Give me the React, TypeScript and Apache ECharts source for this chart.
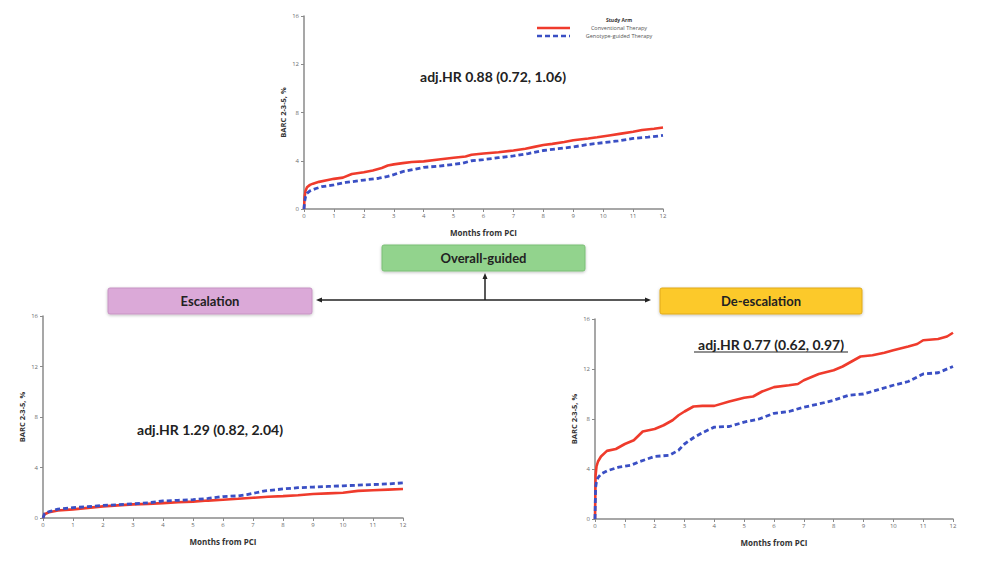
import React, { useEffect, useRef } from "react";
import * as echarts from "echarts";

// Cumulative incidence of BARC 2-3-5 bleeding (%), by study arm
const overallConvT = [0, 0.02, 0.05, 0.1, 0.2, 0.3, 0.5, 0.8, 1.0, 1.3, 1.6, 2.0, 2.3, 2.6, 2.8, 3.0, 3.3, 3.6, 4.0, 4.5, 5.0, 5.4, 5.6, 6.0, 6.5, 7.0, 7.4, 7.7, 8.0, 8.3, 8.7, 9.0, 9.5, 9.8, 10.2, 10.6, 11.0, 11.3, 11.7, 12];
const overallConvV = [0, 1.0, 1.5, 1.8, 2.0, 2.1, 2.25, 2.4, 2.5, 2.6, 2.9, 3.05, 3.2, 3.4, 3.6, 3.7, 3.8, 3.9, 3.95, 4.1, 4.25, 4.35, 4.5, 4.6, 4.7, 4.85, 5.0, 5.15, 5.3, 5.4, 5.55, 5.7, 5.85, 5.95, 6.1, 6.25, 6.4, 6.55, 6.65, 6.75];
const overallGenoT = [0, 0.02, 0.05, 0.1, 0.2, 0.4, 0.6, 1.0, 1.4, 2.0, 2.5, 2.8, 3.0, 3.3, 3.7, 4.0, 4.5, 5.0, 5.3, 5.6, 6.0, 6.5, 7.0, 7.5, 8.0, 8.5, 9.0, 9.5, 10.0, 10.5, 11.0, 11.5, 12];
const overallGenoV = [0, 0.6, 1.0, 1.3, 1.5, 1.7, 1.85, 2.0, 2.2, 2.4, 2.55, 2.7, 2.85, 3.1, 3.3, 3.45, 3.55, 3.7, 3.8, 4.0, 4.1, 4.25, 4.4, 4.6, 4.85, 5.0, 5.15, 5.35, 5.5, 5.65, 5.85, 5.95, 6.1];

const escConvT = [0, 0.05, 0.2, 0.5, 1.0, 1.5, 2.0, 2.5, 3.0, 3.5, 4.0, 4.5, 5.0, 5.5, 6.0, 6.5, 7.0, 7.5, 8.0, 8.5, 9.0, 9.5, 10.0, 10.5, 11.0, 11.5, 12];
const escConvV = [0, 0.3, 0.45, 0.6, 0.68, 0.8, 0.92, 1.0, 1.08, 1.12, 1.18, 1.25, 1.3, 1.38, 1.45, 1.52, 1.6, 1.68, 1.73, 1.8, 1.9, 1.95, 2.0, 2.15, 2.2, 2.25, 2.3];
const escGenoT = [0, 0.05, 0.2, 0.5, 1.0, 1.5, 2.0, 2.5, 3.0, 3.5, 4.0, 4.5, 5.0, 5.5, 6.0, 6.5, 6.8, 7.1, 7.4, 8.0, 8.5, 9.0, 9.5, 10.0, 10.5, 11.0, 11.5, 12];
const escGenoV = [0, 0.35, 0.5, 0.7, 0.82, 0.9, 1.0, 1.05, 1.12, 1.2, 1.35, 1.4, 1.45, 1.55, 1.7, 1.75, 1.85, 2.0, 2.15, 2.3, 2.4, 2.45, 2.5, 2.55, 2.6, 2.65, 2.7, 2.78];

const deescConvT = [0, 0.02, 0.05, 0.1, 0.2, 0.4, 0.7, 1.0, 1.3, 1.6, 2.0, 2.3, 2.6, 2.8, 3.0, 3.3, 3.6, 4.0, 4.5, 5.0, 5.3, 5.6, 6.0, 6.5, 6.8, 7.0, 7.5, 8.0, 8.3, 8.6, 8.9, 9.3, 9.7, 10.0, 10.5, 10.8, 11.0, 11.5, 11.8, 12];
const deescConvV = [0, 3.5, 4.2, 4.6, 5.0, 5.45, 5.6, 6.0, 6.3, 7.0, 7.2, 7.5, 7.9, 8.3, 8.6, 9.0, 9.05, 9.05, 9.4, 9.7, 9.8, 10.2, 10.55, 10.7, 10.8, 11.1, 11.6, 11.9, 12.2, 12.6, 13.0, 13.1, 13.3, 13.5, 13.8, 14.0, 14.3, 14.4, 14.6, 14.9];
const deescGenoT = [0, 0.02, 0.05, 0.1, 0.2, 0.4, 0.8, 1.2, 1.5, 2.0, 2.5, 2.8, 3.0, 3.3, 3.6, 4.0, 4.5, 5.0, 5.5, 6.0, 6.5, 7.0, 7.5, 8.0, 8.5, 9.0, 9.5, 10.0, 10.5, 11.0, 11.5, 12];
const deescGenoV = [0, 2.5, 3.0, 3.3, 3.6, 3.85, 4.15, 4.3, 4.6, 5.0, 5.1, 5.5, 6.0, 6.5, 6.9, 7.35, 7.4, 7.75, 8.0, 8.45, 8.6, 8.95, 9.2, 9.5, 9.9, 10.0, 10.35, 10.7, 11.0, 11.6, 11.7, 12.2];

const armNames = ["Conventional Therapy", "Genotype-guided Therapy"];
const panelHR = ["adj.HR 0.88 (0.72, 1.06)", "adj.HR 1.29 (0.82, 2.04)", "adj.HR 0.77 (0.62, 0.97)"];
const strategyLabels = ["Overall-guided", "Escalation", "De-escalation"];

const RED = "#ef3b2c";
const BLUE = "#3a4fc4";
const AXIS = "#8a8a8a";

const pairs = (t: number[], v: number[]) => t.map((x, i) => [x, v[i]]);

function makeXAxis(gridIndex: number) {
  return {
    type: "value",
    gridIndex,
    min: 0,
    max: 12,
    interval: 1,
    name: "Months from PCI",
    nameLocation: "middle",
    nameGap: 19,
    nameTextStyle: { fontSize: 8, fontWeight: "bold", color: "#333", fontFamily: "Open Sans" },
    axisLine: { lineStyle: { color: AXIS, width: 1.5 } },
    axisTick: { length: 3, lineStyle: { color: AXIS } },
    axisLabel: { fontSize: 6, color: "#6b6b6b", margin: 4, fontFamily: "Open Sans" },
    splitLine: { show: false },
  };
}

function makeYAxis(gridIndex: number) {
  return {
    type: "value",
    gridIndex,
    min: 0,
    max: 16,
    interval: 4,
    name: "BARC 2-3-5, %",
    nameLocation: "middle",
    nameGap: 17,
    nameTextStyle: { fontSize: 7.5, fontWeight: "bold", color: "#333", fontFamily: "Open Sans" },
    axisLine: { show: true, lineStyle: { color: AXIS, width: 1.5 } },
    axisTick: { show: true, length: 3, lineStyle: { color: AXIS } },
    axisLabel: { fontSize: 6, color: "#6b6b6b", margin: 5, fontFamily: "Open Sans" },
    splitLine: { show: false },
  };
}

function kmSeries(name: string, idx: number, data: number[][], dashed: boolean) {
  return {
    type: "line",
    name,
    xAxisIndex: idx,
    yAxisIndex: idx,
    showSymbol: false,
    symbol: "none",
    data,
    lineStyle: dashed
      ? { color: BLUE, width: 2.8, type: [5, 3] }
      : { color: RED, width: 2.6 },
    z: dashed ? 3 : 2,
  };
}

function box(x: number, y: number, w: number, h: number, fill: string, stroke: string, label: string) {
  return {
    type: "group",
    children: [
      {
        type: "rect",
        shape: { x, y, width: w, height: h, r: 2 },
        style: { fill, stroke, lineWidth: 1, shadowBlur: 3, shadowColor: "rgba(0,0,0,0.25)", shadowOffsetY: 1 },
      },
      {
        type: "text",
        x: x + w / 2,
        y: y + h / 2,
        style: {
          text: label,
          fill: "#222",
          font: "bold 13px Lato",
          align: "center",
          verticalAlign: "middle",
        },
      },
    ],
  };
}

function hrText(x: number, y: number, label: string, underline: boolean) {
  const items: any[] = [
    {
      type: "text",
      x,
      y,
      style: { text: label, fill: "#222", font: "bold 14px Lato", align: "center", verticalAlign: "middle" },
    },
  ];
  if (underline) {
    items.push({
      type: "line",
      shape: { x1: x - 77, y1: y + 8, x2: x + 77, y2: y + 8 },
      style: { stroke: "#222", lineWidth: 1.2 },
    });
  }
  return { type: "group", children: items };
}

export default function App() {
  const ref = useRef<HTMLDivElement>(null);

  useEffect(() => {
    if (!ref.current) return;
    const chart = echarts.init(ref.current, null, { renderer: "svg" });
    chart.setOption({
      animation: false,
      backgroundColor: "#ffffff",
      grid: [
        { left: 304, top: 16, width: 359, height: 193 },
        { left: 43, top: 316, width: 360, height: 202 },
        { left: 595, top: 319, width: 358, height: 200 },
      ],
      xAxis: [makeXAxis(0), makeXAxis(1), makeXAxis(2)],
      yAxis: [makeYAxis(0), makeYAxis(1), makeYAxis(2)],
      series: [
        kmSeries(armNames[0], 0, pairs(overallConvT, overallConvV), false),
        kmSeries(armNames[1], 0, pairs(overallGenoT, overallGenoV), true),
        kmSeries(armNames[0], 1, pairs(escConvT, escConvV), false),
        kmSeries(armNames[1], 1, pairs(escGenoT, escGenoV), true),
        kmSeries(armNames[0], 2, pairs(deescConvT, deescConvV), false),
        kmSeries(armNames[1], 2, pairs(deescGenoT, deescGenoV), true),
      ],
      graphic: [
        // legend of the overall panel
        {
          type: "text",
          x: 619,
          y: 20,
          style: { text: "Study Arm", fill: "#333", font: "bold 5px Open Sans", align: "center", verticalAlign: "middle" },
        },
        { type: "line", shape: { x1: 537, y1: 28, x2: 570, y2: 28 }, style: { stroke: RED, lineWidth: 2.4 } },
        {
          type: "text",
          x: 619,
          y: 28,
          style: { text: armNames[0], fill: "#555", font: "5.5px Open Sans", align: "center", verticalAlign: "middle" },
        },
        { type: "line", shape: { x1: 537, y1: 36, x2: 570, y2: 36 }, style: { stroke: BLUE, lineWidth: 2.6, lineDash: [5, 3] } },
        {
          type: "text",
          x: 619,
          y: 36,
          style: { text: armNames[1], fill: "#555", font: "5.5px Open Sans", align: "center", verticalAlign: "middle" },
        },
        // hazard ratios
        hrText(493, 76, panelHR[0], false),
        hrText(210, 429, panelHR[1], false),
        hrText(771, 344, panelHR[2], true),
        // connector between strategy boxes
        { type: "line", shape: { x1: 320, y1: 300, x2: 648, y2: 300 }, style: { stroke: "#222", lineWidth: 1.5 } },
        { type: "polygon", shape: { points: [[316, 300], [322, 297.5], [322, 302.5]] }, style: { fill: "#222" } },
        { type: "polygon", shape: { points: [[651, 300], [645, 297.5], [645, 302.5]] }, style: { fill: "#222" } },
        { type: "line", shape: { x1: 485, y1: 300, x2: 485, y2: 276 }, style: { stroke: "#222", lineWidth: 1.5 } },
        { type: "polygon", shape: { points: [[485, 273], [482.5, 279], [487.5, 279]] }, style: { fill: "#222" } },
        // strategy boxes
        box(382, 245, 203, 26, "#92d38d", "#7bbf76", strategyLabels[0]),
        box(108, 288, 204, 26, "#dba9d8", "#c693c3", strategyLabels[1]),
        box(660, 288, 202, 26, "#fcc92c", "#e0a91a", strategyLabels[2]),
      ],
    });
    return () => chart.dispose();
  }, []);

  return (
    <div
      ref={ref}
      style={{ position: "fixed", left: 0, top: 0, width: 981, height: 566, background: "#fff" }}
    />
  );
}
